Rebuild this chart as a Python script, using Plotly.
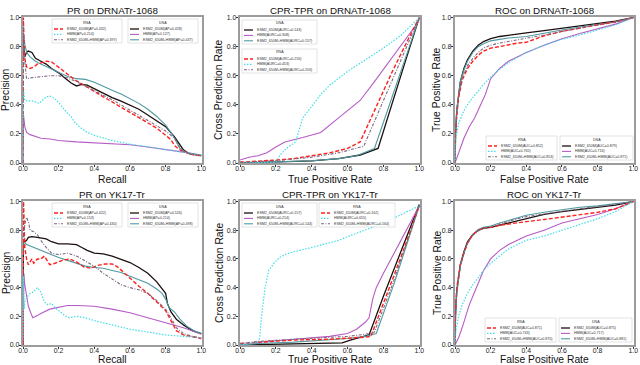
import plotly.graph_objects as go

# ---------------- data ----------------
# PR on DRNATr-1068
pr_drna_rna_esm_x = [0, 0.002, 0.005, 0.01, 0.02, 0.04, 0.06, 0.08, 0.10, 0.13, 0.16, 0.19, 0.22, 0.25, 0.30, 0.35, 0.40, 0.45, 0.50, 0.55, 0.60, 0.65, 0.70, 0.75, 0.80, 0.83, 0.85, 0.88, 0.92, 0.96, 1.0]
pr_drna_rna_esm_y = [0.0, 1.0, 0.85, 0.72, 0.66, 0.65, 0.66, 0.68, 0.69, 0.70, 0.695, 0.67, 0.64, 0.61, 0.565, 0.53, 0.49, 0.455, 0.42, 0.385, 0.35, 0.315, 0.28, 0.24, 0.19, 0.16, 0.12, 0.09, 0.07, 0.055, 0.05]
pr_drna_rna_hmm_x = [0, 0.003, 0.01, 0.03, 0.06, 0.09, 0.11, 0.13, 0.15, 0.17, 0.19, 0.21, 0.23, 0.25, 0.27, 0.29, 0.32, 0.36, 0.40, 0.45, 0.50, 0.60, 0.70, 0.80, 0.90, 1.0]
pr_drna_rna_hmm_y = [0.0, 0.5, 0.43, 0.43, 0.425, 0.41, 0.43, 0.455, 0.46, 0.45, 0.43, 0.40, 0.37, 0.34, 0.32, 0.28, 0.245, 0.21, 0.19, 0.17, 0.155, 0.13, 0.11, 0.09, 0.07, 0.055]
pr_drna_rna_mix_x = [0, 0.003, 0.01, 0.02, 0.04, 0.07, 0.10, 0.15, 0.20, 0.25, 0.30, 0.35, 0.40, 0.45, 0.50, 0.55, 0.60, 0.65, 0.70, 0.75, 0.80, 0.83, 0.85, 0.87, 0.90, 0.95, 1.0]
pr_drna_rna_mix_y = [0.0, 0.95, 0.7, 0.58, 0.585, 0.59, 0.59, 0.60, 0.60, 0.585, 0.56, 0.53, 0.50, 0.47, 0.435, 0.40, 0.365, 0.33, 0.295, 0.26, 0.22, 0.19, 0.17, 0.12, 0.08, 0.06, 0.05]
pr_drna_dna_esm_x = [0, 0.005, 0.01, 0.02, 0.03, 0.05, 0.07, 0.10, 0.13, 0.16, 0.20, 0.24, 0.27, 0.30, 0.33, 0.36, 0.40, 0.45, 0.50, 0.55, 0.60, 0.65, 0.70, 0.75, 0.80, 0.85, 0.88, 0.90, 0.93, 0.96, 1.0]
pr_drna_dna_esm_y = [0.83, 0.78, 0.73, 0.76, 0.77, 0.76, 0.72, 0.70, 0.68, 0.65, 0.62, 0.58, 0.55, 0.53, 0.54, 0.535, 0.51, 0.48, 0.45, 0.425, 0.40, 0.37, 0.33, 0.29, 0.25, 0.18, 0.13, 0.09, 0.065, 0.06, 0.05]
pr_drna_dna_hmm_x = [0, 0.003, 0.01, 0.02, 0.04, 0.07, 0.10, 0.15, 0.20, 0.30, 0.40, 0.50, 0.60, 0.70, 0.80, 0.90, 1.0]
pr_drna_dna_hmm_y = [0.0, 0.33, 0.25, 0.21, 0.195, 0.185, 0.17, 0.165, 0.155, 0.145, 0.14, 0.135, 0.125, 0.11, 0.095, 0.075, 0.055]
pr_drna_dna_mix_x = [0, 0.005, 0.01, 0.02, 0.04, 0.07, 0.10, 0.15, 0.20, 0.25, 0.30, 0.35, 0.40, 0.45, 0.50, 0.55, 0.60, 0.65, 0.70, 0.75, 0.80, 0.83, 0.86, 0.88, 0.92, 0.96, 1.0]
pr_drna_dna_mix_y = [0.8, 0.87, 0.82, 0.76, 0.73, 0.70, 0.68, 0.65, 0.62, 0.595, 0.58, 0.575, 0.555, 0.525, 0.50, 0.475, 0.445, 0.41, 0.37, 0.32, 0.26, 0.21, 0.15, 0.10, 0.07, 0.06, 0.05]

# CPR-TPR on DRNATr-1068
cpr_drna_rna_esm_x = [0, 0.1, 0.2, 0.3, 0.4, 0.5, 0.6, 0.67, 0.75, 0.85, 0.95, 1.0]
cpr_drna_rna_esm_y = [0.005, 0.01, 0.02, 0.03, 0.05, 0.07, 0.10, 0.145, 0.36, 0.63, 0.88, 1.0]
cpr_drna_rna_hmm_x = [0, 0.1, 0.2, 0.22, 0.25, 0.28, 0.31, 0.35, 0.40, 0.45, 0.50, 0.55, 0.60, 0.70, 0.80, 0.90, 1.0]
cpr_drna_rna_hmm_y = [0.0, 0.0, 0.005, 0.05, 0.09, 0.12, 0.145, 0.31, 0.39, 0.47, 0.535, 0.58, 0.63, 0.71, 0.79, 0.88, 1.0]
cpr_drna_rna_mix_x = [0, 0.2, 0.4, 0.55, 0.69, 0.8, 0.9, 1.0]
cpr_drna_rna_mix_y = [0.005, 0.015, 0.04, 0.07, 0.115, 0.43, 0.72, 1.0]
cpr_drna_dna_esm_x = [0, 0.2, 0.4, 0.55, 0.67, 0.77, 0.85, 0.92, 1.0]
cpr_drna_dna_esm_y = [0.0, 0.005, 0.015, 0.03, 0.055, 0.10, 0.42, 0.69, 1.0]
cpr_drna_dna_hmm_x = [0, 0.05, 0.10, 0.15, 0.20, 0.25, 0.35, 0.45, 0.55, 0.67, 0.75, 0.85, 1.0]
cpr_drna_dna_hmm_y = [0.02, 0.04, 0.05, 0.07, 0.11, 0.145, 0.175, 0.21, 0.31, 0.43, 0.56, 0.73, 0.98]
cpr_drna_dna_mix_x = [0, 0.2, 0.4, 0.55, 0.65, 0.75, 0.85, 0.92, 1.0]
cpr_drna_dna_mix_y = [0.0, 0.005, 0.015, 0.03, 0.05, 0.10, 0.46, 0.71, 1.0]

# ROC on DRNATr-1068
roc_drna_rna_esm_x = [0, 0.003, 0.01, 0.02, 0.04, 0.07, 0.10, 0.13, 0.16, 0.20, 0.25, 0.30, 0.35, 0.40, 0.45, 0.50, 0.60, 0.70, 0.80, 0.90, 1.0]
roc_drna_rna_esm_y = [0, 0.2, 0.33, 0.45, 0.57, 0.65, 0.70, 0.74, 0.77, 0.79, 0.80, 0.815, 0.825, 0.83, 0.85, 0.875, 0.905, 0.93, 0.95, 0.97, 1.0]
roc_drna_rna_hmm_x = [0, 0.005, 0.02, 0.05, 0.08, 0.12, 0.16, 0.20, 0.25, 0.30, 0.40, 0.50, 0.60, 0.70, 0.80, 0.90, 1.0]
roc_drna_rna_hmm_y = [0, 0.17, 0.27, 0.36, 0.42, 0.48, 0.54, 0.59, 0.645, 0.69, 0.76, 0.81, 0.85, 0.88, 0.915, 0.95, 1.0]
roc_drna_rna_mix_x = [0, 0.003, 0.01, 0.02, 0.04, 0.07, 0.10, 0.13, 0.16, 0.20, 0.25, 0.30, 0.35, 0.40, 0.45, 0.50, 0.60, 0.70, 0.80, 0.90, 1.0]
roc_drna_rna_mix_y = [0, 0.2, 0.34, 0.46, 0.58, 0.67, 0.72, 0.76, 0.79, 0.81, 0.825, 0.835, 0.845, 0.855, 0.865, 0.88, 0.905, 0.93, 0.95, 0.97, 1.0]
roc_drna_dna_esm_x = [0, 0.003, 0.01, 0.02, 0.03, 0.05, 0.07, 0.10, 0.13, 0.16, 0.20, 0.25, 0.30, 0.40, 0.50, 0.60, 0.70, 0.80, 0.90, 1.0]
roc_drna_dna_esm_y = [0, 0.2, 0.36, 0.48, 0.56, 0.65, 0.71, 0.77, 0.81, 0.835, 0.855, 0.87, 0.88, 0.895, 0.91, 0.925, 0.94, 0.955, 0.975, 1.0]
roc_drna_dna_hmm_x = [0, 0.02, 0.05, 0.08, 0.11, 0.14, 0.17, 0.20, 0.25, 0.30, 0.35, 0.40, 0.50, 0.60, 0.70, 0.80, 0.90, 1.0]
roc_drna_dna_hmm_y = [0, 0.07, 0.17, 0.25, 0.31, 0.39, 0.47, 0.58, 0.65, 0.70, 0.73, 0.76, 0.81, 0.855, 0.89, 0.92, 0.955, 1.0]
roc_drna_dna_mix_x = [0, 0.003, 0.01, 0.02, 0.03, 0.05, 0.07, 0.10, 0.13, 0.16, 0.20, 0.25, 0.30, 0.40, 0.50, 0.60, 0.70, 0.80, 0.90, 1.0]
roc_drna_dna_mix_y = [0, 0.22, 0.37, 0.49, 0.56, 0.64, 0.70, 0.76, 0.80, 0.82, 0.84, 0.85, 0.86, 0.87, 0.895, 0.915, 0.935, 0.955, 0.97, 1.0]

# PR on YK17-Tr
pr_yk_rna_esm_x = [0, 0.003, 0.01, 0.02, 0.03, 0.05, 0.06, 0.08, 0.10, 0.12, 0.15, 0.18, 0.22, 0.26, 0.30, 0.34, 0.38, 0.42, 0.46, 0.50, 0.53, 0.57, 0.60, 0.65, 0.70, 0.75, 0.80, 0.83, 0.86, 0.90, 0.95, 1.0]
pr_yk_rna_esm_y = [0.0, 1.0, 0.68, 0.60, 0.56, 0.60, 0.57, 0.60, 0.60, 0.62, 0.56, 0.57, 0.59, 0.60, 0.58, 0.545, 0.535, 0.555, 0.565, 0.565, 0.545, 0.50, 0.46, 0.41, 0.36, 0.30, 0.24, 0.17, 0.10, 0.07, 0.055, 0.045]
pr_yk_rna_hmm_x = [0, 0.003, 0.006, 0.01, 0.02, 0.04, 0.06, 0.08, 0.10, 0.12, 0.14, 0.16, 0.18, 0.20, 0.23, 0.26, 0.30, 0.35, 0.40, 0.50, 0.60, 0.70, 0.80, 0.90, 1.0]
pr_yk_rna_hmm_y = [0.05, 0.48, 0.25, 0.30, 0.33, 0.36, 0.37, 0.40, 0.37, 0.30, 0.28, 0.29, 0.26, 0.24, 0.21, 0.19, 0.20, 0.19, 0.17, 0.14, 0.11, 0.09, 0.07, 0.06, 0.05]
pr_yk_rna_mix_x = [0.005, 0.01, 0.02, 0.03, 0.04, 0.06, 0.08, 0.10, 0.13, 0.16, 0.20, 0.25, 0.30, 0.35, 0.40, 0.45, 0.50, 0.55, 0.60, 0.65, 0.70, 0.75, 0.80, 0.83, 0.86, 0.90, 0.95, 1.0]
pr_yk_rna_mix_y = [0.75, 0.84, 0.89, 0.86, 0.80, 0.79, 0.77, 0.73, 0.68, 0.64, 0.63, 0.64, 0.62, 0.585, 0.55, 0.50, 0.46, 0.42, 0.40, 0.385, 0.36, 0.31, 0.25, 0.19, 0.12, 0.08, 0.06, 0.05]
pr_yk_dna_esm_x = [0, 0.002, 0.01, 0.02, 0.03, 0.05, 0.08, 0.10, 0.13, 0.16, 0.20, 0.25, 0.30, 0.33, 0.36, 0.40, 0.45, 0.50, 0.55, 0.60, 0.65, 0.70, 0.75, 0.80, 0.81, 0.83, 0.86, 0.90, 0.95, 1.0]
pr_yk_dna_esm_y = [0.0, 0.72, 0.72, 0.73, 0.75, 0.755, 0.75, 0.745, 0.74, 0.72, 0.705, 0.705, 0.70, 0.68, 0.66, 0.64, 0.635, 0.62, 0.60, 0.575, 0.54, 0.50, 0.44, 0.36, 0.29, 0.23, 0.18, 0.14, 0.10, 0.08]
pr_yk_dna_hmm_x = [0, 0.005, 0.01, 0.02, 0.03, 0.045, 0.055, 0.08, 0.10, 0.15, 0.20, 0.25, 0.30, 0.40, 0.50, 0.60, 0.70, 0.80, 0.90, 1.0]
pr_yk_dna_hmm_y = [0.0, 0.5, 0.42, 0.33, 0.27, 0.22, 0.19, 0.205, 0.22, 0.25, 0.265, 0.275, 0.275, 0.27, 0.25, 0.225, 0.19, 0.155, 0.12, 0.075]
pr_yk_dna_mix_x = [0, 0.005, 0.02, 0.04, 0.07, 0.10, 0.15, 0.20, 0.25, 0.30, 0.35, 0.40, 0.45, 0.50, 0.55, 0.60, 0.65, 0.70, 0.75, 0.78, 0.80, 0.82, 0.85, 0.88, 0.92, 0.96, 1.0]
pr_yk_dna_mix_y = [0.65, 0.72, 0.70, 0.69, 0.67, 0.655, 0.63, 0.61, 0.59, 0.57, 0.55, 0.54, 0.535, 0.52, 0.505, 0.48, 0.455, 0.43, 0.39, 0.36, 0.32, 0.26, 0.23, 0.18, 0.13, 0.10, 0.08]

# CPR-TPR on YK17-Tr
cpr_yk_rna_esm_x = [0, 0.1, 0.2, 0.3, 0.5, 0.6, 0.7, 0.73, 0.80, 0.90, 1.0]
cpr_yk_rna_esm_y = [0.01, 0.02, 0.03, 0.035, 0.04, 0.045, 0.055, 0.06, 0.29, 0.62, 0.97]
cpr_yk_rna_hmm_x = [0, 0.05, 0.10, 0.11, 0.12, 0.14, 0.16, 0.19, 0.22, 0.26, 0.30, 0.40, 0.50, 0.55, 0.60, 0.70, 0.80, 0.90, 1.0]
cpr_yk_rna_hmm_y = [0.0, 0.01, 0.02, 0.05, 0.2, 0.4, 0.52, 0.57, 0.61, 0.635, 0.65, 0.68, 0.71, 0.73, 0.755, 0.80, 0.85, 0.91, 0.97]
cpr_yk_rna_mix_x = [0, 0.1, 0.3, 0.5, 0.6, 0.7, 0.75, 0.85, 1.0]
cpr_yk_rna_mix_y = [0.01, 0.025, 0.04, 0.05, 0.06, 0.075, 0.09, 0.42, 0.97]
cpr_yk_dna_esm_x = [0, 0.1, 0.3, 0.5, 0.57, 0.62, 0.67, 0.72, 0.80, 0.90, 1.0]
cpr_yk_dna_esm_y = [0.0, 0.003, 0.007, 0.012, 0.015, 0.035, 0.05, 0.07, 0.34, 0.66, 0.98]
cpr_yk_dna_hmm_x = [0, 0.1, 0.2, 0.3, 0.4, 0.5, 0.6, 0.65, 0.70, 0.72, 0.74, 0.76, 0.80, 0.90, 1.0]
cpr_yk_dna_hmm_y = [0.0, 0.02, 0.03, 0.04, 0.05, 0.06, 0.08, 0.11, 0.16, 0.19, 0.32, 0.40, 0.50, 0.74, 0.97]
cpr_yk_dna_mix_x = [0, 0.1, 0.3, 0.5, 0.6, 0.7, 0.76, 0.86, 1.0]
cpr_yk_dna_mix_y = [0.0, 0.01, 0.02, 0.035, 0.045, 0.06, 0.08, 0.43, 0.97]

# ROC on YK17-Tr
roc_yk_fpr = [0, 0.003, 0.01, 0.02, 0.03, 0.05, 0.07, 0.10, 0.13, 0.16, 0.20, 0.25, 0.30, 0.35, 0.40, 0.50, 0.60, 0.70, 0.80, 0.90, 1.0]
roc_yk_rna_esm_y = [0, 0.25, 0.40, 0.50, 0.56, 0.64, 0.71, 0.77, 0.80, 0.815, 0.82, 0.835, 0.845, 0.85, 0.86, 0.875, 0.89, 0.905, 0.925, 0.95, 1.0]
roc_yk_rna_mix_y = [0, 0.21, 0.37, 0.48, 0.55, 0.64, 0.71, 0.765, 0.795, 0.81, 0.825, 0.845, 0.865, 0.88, 0.895, 0.915, 0.935, 0.95, 0.965, 0.98, 1.0]
roc_yk_dna_esm_y = [0, 0.22, 0.38, 0.49, 0.56, 0.65, 0.72, 0.77, 0.80, 0.815, 0.82, 0.835, 0.85, 0.865, 0.875, 0.91, 0.93, 0.945, 0.955, 0.975, 1.0]
roc_yk_dna_mix_y = [0, 0.2, 0.36, 0.48, 0.55, 0.64, 0.71, 0.77, 0.805, 0.82, 0.83, 0.85, 0.87, 0.89, 0.905, 0.925, 0.945, 0.96, 0.97, 0.985, 1.0]
roc_yk_rna_hmm_x = [0, 0.005, 0.02, 0.04, 0.07, 0.10, 0.13, 0.16, 0.20, 0.25, 0.30, 0.35, 0.40, 0.50, 0.60, 0.70, 0.80, 0.90, 1.0]
roc_yk_rna_hmm_y = [0, 0.1, 0.2, 0.28, 0.36, 0.42, 0.47, 0.52, 0.57, 0.62, 0.67, 0.70, 0.73, 0.76, 0.80, 0.84, 0.88, 0.93, 1.0]
roc_yk_dna_hmm_x = [0, 0.02, 0.04, 0.06, 0.08, 0.10, 0.13, 0.16, 0.20, 0.25, 0.30, 0.35, 0.40, 0.50, 0.60, 0.70, 0.80, 0.90, 1.0]
roc_yk_dna_hmm_y = [0, 0.05, 0.12, 0.2, 0.28, 0.34, 0.43, 0.52, 0.60, 0.66, 0.70, 0.73, 0.76, 0.80, 0.85, 0.88, 0.91, 0.95, 1.0]

# legend labels
pr_drna_rna_labels = ["ESM2_650M(AP=0.432)", "HMM(AP=0.214)", "ESM2_650M+HMM(AP=0.397)"]
pr_drna_dna_labels = ["ESM2_650M(AP=0.428)", "HMM(AP=0.127)", "ESM2_650M+HMM(AP=0.437)"]
cpr_drna_dna_labels = ["ESM2_650M(AURC=0.143)", "HMM(AURC=0.308)", "ESM2_650M+HMM(AURC=0.157)"]
cpr_drna_rna_labels = ["ESM2_650M(AURC=0.216)", "HMM(AURC=0.453)", "ESM2_650M+HMM(AURC=0.203)"]
roc_drna_rna_labels = ["ESM2_650M(AUC=0.852)", "HMM(AUC=0.765)", "ESM2_650M+HMM(AUC=0.853)"]
roc_drna_dna_labels = ["ESM2_650M(AUC=0.879)", "HMM(AUC=0.716)", "ESM2_650M+HMM(AUC=0.871)"]
pr_yk_rna_labels = ["ESM2_650M(AP=0.422)", "HMM(AP=0.153)", "ESM2_650M+HMM(AP=0.430)"]
pr_yk_dna_labels = ["ESM2_650M(AP=0.526)", "HMM(AP=0.214)", "ESM2_650M+HMM(AP=0.498)"]
cpr_yk_dna_labels = ["ESM2_650M(AURC=0.157)", "HMM(AURC=0.214)", "ESM2_650M+HMM(AURC=0.144)"]
cpr_yk_rna_labels = ["ESM2_650M(AURC=0.162)", "HMM(AURC=0.655)", "ESM2_650M+HMM(AURC=0.164)"]
roc_yk_rna_labels = ["ESM2_650M(AUC=0.871)", "HMM(AUC=0.743)", "ESM2_650M+HMM(AUC=0.870)"]
roc_yk_dna_labels = ["ESM2_650M(AUC=0.875)", "HMM(AUC=0.717)", "ESM2_650M+HMM(AUC=0.881)"]

tick_vals = [0.0, 0.2, 0.4, 0.6, 0.8, 1.0]

# ---------------- styling ----------------
FONT = "Liberation Sans, Arial, sans-serif"
STYLE = {
    "dna_esm": dict(color="#1c0f0f", dash="solid", width=1.3),
    "dna_hmm": dict(color="#b65cc6", dash="solid", width=1.1),
    "dna_mix": dict(color="#4f9aa0", dash="solid", width=1.1),
    "rna_esm": dict(color="#ff1f1f", dash="4px,2px", width=1.4),
    "rna_hmm": dict(color="#3fdde6", dash="1.5px,1.5px", width=1.2),
    "rna_mix": dict(color="#7d6780", dash="3px,1.5px,1px,1.5px", width=1.1),
}
RNA_KEYS = ["rna_esm", "rna_hmm", "rna_mix"]
DNA_KEYS = ["dna_esm", "dna_hmm", "dna_mix"]

W, H = 640, 365
ML, MR, MT, MB = 22, 5, 17, 20
PW, PH = W - ML - MR, H - MT - MB
COLS_PX = [(23, 202), (240, 420), (455, 634)]
ROWS_PX = [(17, 163), (201, 345)]
TITLE_Y = [11, 194]
XTITLE_Y = [179, 359.5]
YTITLE_X = [6, 219, 437]
LEG_FONT = 3.6


def px_x(px):
    return (px - ML) / PW


def px_y(py):
    return 1 - (py - MT) / PH


# curves per panel, built from the lists above
panels = [
    dict(title="PR on DRNATr-1068", xt="Recall", yt="Precision", row=0, col=0,
         curves={"dna_esm": (pr_drna_dna_esm_x, pr_drna_dna_esm_y), "dna_hmm": (pr_drna_dna_hmm_x, pr_drna_dna_hmm_y),
                 "dna_mix": (pr_drna_dna_mix_x, pr_drna_dna_mix_y), "rna_esm": (pr_drna_rna_esm_x, pr_drna_rna_esm_y),
                 "rna_hmm": (pr_drna_rna_hmm_x, pr_drna_rna_hmm_y), "rna_mix": (pr_drna_rna_mix_x, pr_drna_rna_mix_y)},
         legends=[("RNA", RNA_KEYS, pr_drna_rna_labels, 29, 2, 70), ("DNA", DNA_KEYS, pr_drna_dna_labels, 105, 2, 70)]),
    dict(title="CPR-TPR on DRNATr-1068", xt="True Positive Rate", yt="Cross Prediction Rate", row=0, col=1,
         curves={"dna_esm": (cpr_drna_dna_esm_x, cpr_drna_dna_esm_y), "dna_hmm": (cpr_drna_dna_hmm_x, cpr_drna_dna_hmm_y),
                 "dna_mix": (cpr_drna_dna_mix_x, cpr_drna_dna_mix_y), "rna_esm": (cpr_drna_rna_esm_x, cpr_drna_rna_esm_y),
                 "rna_hmm": (cpr_drna_rna_hmm_x, cpr_drna_rna_hmm_y), "rna_mix": (cpr_drna_rna_mix_x, cpr_drna_rna_mix_y)},
         legends=[("DNA", DNA_KEYS, cpr_drna_dna_labels, 2, 3, 75), ("RNA", RNA_KEYS, cpr_drna_rna_labels, 2, 32, 75)]),
    dict(title="ROC on DRNATr-1068", xt="False Positive Rate", yt="True Positive Rate", row=0, col=2,
         curves={"dna_esm": (roc_drna_dna_esm_x, roc_drna_dna_esm_y), "dna_hmm": (roc_drna_dna_hmm_x, roc_drna_dna_hmm_y),
                 "dna_mix": (roc_drna_dna_mix_x, roc_drna_dna_mix_y), "rna_esm": (roc_drna_rna_esm_x, roc_drna_rna_esm_y),
                 "rna_hmm": (roc_drna_rna_hmm_x, roc_drna_rna_hmm_y), "rna_mix": (roc_drna_rna_mix_x, roc_drna_rna_mix_y)},
         legends=[("RNA", RNA_KEYS, roc_drna_rna_labels, 31, 119, 71), ("DNA", DNA_KEYS, roc_drna_dna_labels, 105, 119, 73)]),
    dict(title="PR on YK17-Tr", xt="Recall", yt="Precision", row=1, col=0,
         curves={"dna_esm": (pr_yk_dna_esm_x, pr_yk_dna_esm_y), "dna_hmm": (pr_yk_dna_hmm_x, pr_yk_dna_hmm_y),
                 "dna_mix": (pr_yk_dna_mix_x, pr_yk_dna_mix_y), "rna_esm": (pr_yk_rna_esm_x, pr_yk_rna_esm_y),
                 "rna_hmm": (pr_yk_rna_hmm_x, pr_yk_rna_hmm_y), "rna_mix": (pr_yk_rna_mix_x, pr_yk_rna_mix_y)},
         legends=[("RNA", RNA_KEYS, pr_yk_rna_labels, 29, 2, 70), ("DNA", DNA_KEYS, pr_yk_dna_labels, 105, 2, 70)]),
    dict(title="CPR-TPR on YK17-Tr", xt="True Positive Rate", yt="Cross Prediction Rate", row=1, col=1,
         curves={"dna_esm": (cpr_yk_dna_esm_x, cpr_yk_dna_esm_y), "dna_hmm": (cpr_yk_dna_hmm_x, cpr_yk_dna_hmm_y),
                 "dna_mix": (cpr_yk_dna_mix_x, cpr_yk_dna_mix_y), "rna_esm": (cpr_yk_rna_esm_x, cpr_yk_rna_esm_y),
                 "rna_hmm": (cpr_yk_rna_hmm_x, cpr_yk_rna_hmm_y), "rna_mix": (cpr_yk_rna_mix_x, cpr_yk_rna_mix_y)},
         legends=[("DNA", DNA_KEYS, cpr_yk_dna_labels, 2, 2, 75), ("RNA", RNA_KEYS, cpr_yk_rna_labels, 79, 2, 76)]),
    dict(title="ROC on YK17-Tr", xt="False Positive Rate", yt="True Positive Rate", row=1, col=2,
         curves={"dna_esm": (roc_yk_fpr, roc_yk_dna_esm_y), "dna_hmm": (roc_yk_dna_hmm_x, roc_yk_dna_hmm_y),
                 "dna_mix": (roc_yk_fpr, roc_yk_dna_mix_y), "rna_esm": (roc_yk_fpr, roc_yk_rna_esm_y),
                 "rna_hmm": (roc_yk_rna_hmm_x, roc_yk_rna_hmm_y), "rna_mix": (roc_yk_fpr, roc_yk_rna_mix_y)},
         legends=[("RNA", RNA_KEYS, roc_yk_rna_labels, 30, 117, 71), ("DNA", DNA_KEYS, roc_yk_dna_labels, 104, 117, 73)]),
]

fig = go.Figure()
shapes, annotations = [], []

for i, p in enumerate(panels):
    n = i + 1
    sfx = "" if n == 1 else str(n)
    x0, x1 = COLS_PX[p["col"]]
    y0, y1 = ROWS_PX[p["row"]]
    pw, ph = x1 - x0, y1 - y0

    for key, (xs, ys) in p["curves"].items():
        st = STYLE[key]
        fig.add_trace(go.Scatter(x=xs, y=ys, mode="lines", xaxis="x" + sfx, yaxis="y" + sfx,
                                 line=dict(color=st["color"], dash=st["dash"], width=st["width"]),
                                 showlegend=False, hoverinfo="skip"))

    axis_common = dict(range=[0, 1.004], tickvals=tick_vals, tickformat=".1f", ticks="outside", ticklen=2.5,
                       tickwidth=0.8, tickcolor="#333", showline=True, linecolor="#9c9c9c", linewidth=1.5,
                       mirror=True, showgrid=False, zeroline=False, automargin=False,
                       tickfont=dict(size=6.9, color="#222"))
    fig.layout["xaxis" + sfx] = dict(axis_common, domain=[px_x(x0), px_x(x1)], anchor="y" + sfx,
                                     ticklabelstandoff=-5)
    fig.layout["yaxis" + sfx] = dict(axis_common, domain=[px_y(y1), px_y(y0)], anchor="x" + sfx,
                                     ticklabelstandoff=-2)

    # panel title and axis titles
    annotations.append(dict(text=p["title"], x=px_x((x0 + x1) / 2), y=px_y(TITLE_Y[p["row"]]),
                            xref="paper", yref="paper", xanchor="center", yanchor="middle",
                            showarrow=False, font=dict(size=9.8, color="#111")))
    annotations.append(dict(text=p["xt"], x=px_x((x0 + x1) / 2), y=px_y(XTITLE_Y[p["row"]]),
                            xref="paper", yref="paper", xanchor="center", yanchor="middle",
                            showarrow=False, font=dict(size=10.3, color="#111")))
    annotations.append(dict(text=p["yt"], x=px_x(YTITLE_X[p["col"]]), y=px_y((y0 + y1) / 2),
                            xref="paper", yref="paper", xanchor="center", yanchor="middle", textangle=-90,
                            showarrow=False, font=dict(size=10.3, color="#111")))

    # small legend boxes (RNA / DNA), as in the original figure
    xr, yr = "x" + sfx + " domain", "y" + sfx + " domain"
    for title, keys, labels, lx, ly, lw in p["legends"]:
        bh = 24
        shapes.append(dict(type="rect", xref=xr, yref=yr, x0=lx / pw, x1=(lx + lw) / pw,
                           y0=1 - (ly + bh) / ph, y1=1 - ly / ph, line=dict(color="#d0d0d0", width=0.6),
                           fillcolor="rgba(255,255,255,0.85)", layer="above"))
        annotations.append(dict(text=title, x=(lx + lw / 2) / pw, y=1 - (ly + 3.5) / ph, xref=xr, yref=yr,
                                showarrow=False, xanchor="center", yanchor="middle",
                                font=dict(size=LEG_FONT, color="#333")))
        for k, (key, lab) in enumerate(zip(keys, labels)):
            yy = 1 - (ly + 10 + 5.4 * k) / ph
            st = STYLE[key]
            shapes.append(dict(type="line", xref=xr, yref=yr, x0=(lx + 2) / pw, x1=(lx + 11) / pw, y0=yy, y1=yy,
                               line=dict(color=st["color"], dash=st["dash"], width=st["width"]), layer="above"))
            annotations.append(dict(text=lab, x=(lx + 13) / pw, y=yy, xref=xr, yref=yr, showarrow=False,
                                    xanchor="left", yanchor="middle", font=dict(size=LEG_FONT, color="#333")))

fig.update_layout(
    width=W, height=H,
    margin=dict(l=ML, r=MR, t=MT, b=MB),
    paper_bgcolor="white", plot_bgcolor="white",
    font=dict(family=FONT, color="#111"),
    shapes=shapes, annotations=annotations,
    showlegend=False,
)

# the page body has a default 8px margin; drop it so the 640x365 figure fills the window
fig.write_html("out.html", config={"displayModeBar": False},
               post_script="document.body.style.margin='0px';")
